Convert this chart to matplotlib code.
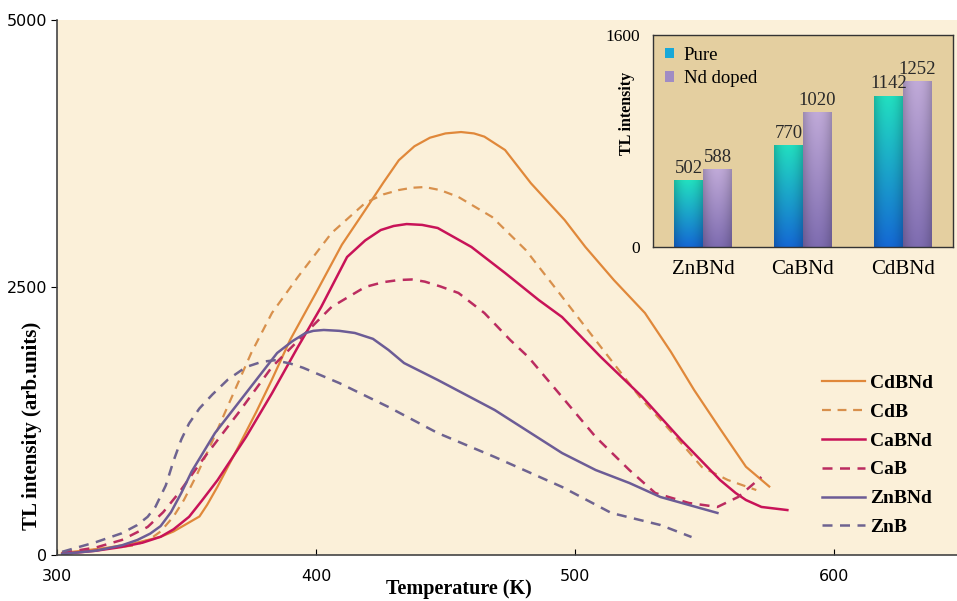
import numpy as np
import matplotlib.pyplot as plt
from matplotlib.colors import to_rgb

# main glow curves
t_cdbnd = [302, 310, 320, 330, 340, 345, 350, 355, 358, 362, 370, 377, 383, 390, 400, 410, 419, 426, 432, 438, 444, 450, 456, 461, 465, 473, 483, 496, 504, 515, 527, 537, 546, 556, 566, 575]
i_cdbnd = [20, 40, 70, 110, 170, 220, 290, 360, 470, 640, 1010, 1340, 1640, 2010, 2450, 2900, 3224, 3480, 3690, 3820, 3900, 3940, 3953, 3940, 3910, 3785, 3474, 3131, 2879, 2570, 2262, 1900, 1542, 1180, 825, 640]

t_cdb = [302, 315, 330, 336, 340, 345, 349, 354, 359, 367, 375, 383, 393, 406, 419, 426, 432, 437, 442, 448, 455, 468, 481, 493, 510, 525, 539, 549, 559, 570]
i_cdb = [20, 50, 90, 150, 220, 360, 514, 750, 1010, 1449, 1888, 2262, 2598, 3009, 3290, 3370, 3411, 3432, 3439, 3410, 3346, 3159, 2850, 2477, 1944, 1477, 1103, 822, 701, 607]

t_cabnd = [302, 315, 325, 333, 340, 345, 351, 356, 362, 373, 383, 393, 402, 412, 419, 425, 430, 435, 441, 447, 460, 473, 486, 495, 510, 526, 541, 556, 562, 566, 572, 582]
i_cabnd = [10, 40, 75, 115, 170, 240, 357, 510, 700, 1103, 1511, 1944, 2318, 2785, 2940, 3037, 3075, 3093, 3085, 3056, 2879, 2636, 2383, 2224, 1850, 1477, 1075, 701, 580, 514, 449, 420]

t_cab = [302, 315, 325, 335, 341, 347, 357, 370, 383, 396, 406, 419, 426, 432, 437, 442, 448, 455, 465, 475, 482, 495, 508, 521, 531, 544, 555, 563, 572]
i_cab = [20, 70, 140, 262, 400, 579, 916, 1327, 1757, 2075, 2318, 2505, 2550, 2570, 2575, 2555, 2510, 2449, 2262, 2009, 1850, 1477, 1103, 794, 579, 486, 449, 542, 729]

t_znbnd = [302, 315, 325, 331, 336, 340, 344, 348, 352, 361, 373, 385, 391, 396, 399, 403, 409, 415, 422, 428, 434, 447, 469, 495, 508, 521, 533, 555]
i_znbnd = [10, 40, 90, 140, 200, 270, 400, 580, 780, 1140, 1514, 1888, 2000, 2075, 2095, 2103, 2095, 2075, 2020, 1916, 1794, 1636, 1355, 953, 794, 673, 542, 393]

t_znb = [302, 315, 325, 331, 335, 338, 342, 345, 348, 351, 355, 360, 366, 373, 379, 384, 390, 395, 409, 428, 447, 469, 495, 514, 533, 545]
i_znb = [30, 120, 203, 280, 357, 450, 650, 880, 1080, 1230, 1370, 1500, 1640, 1757, 1805, 1820, 1790, 1750, 1607, 1383, 1140, 916, 636, 393, 280, 168]

# inset bar data
samples = ["ZnBNd", "CaBNd", "CdBNd"]
pure = [502, 770, 1142]
nd_doped = [588, 1020, 1252]

serif = ["Liberation Serif", "DejaVu Serif"]

fig = plt.figure(figsize=(9.57, 6.01), dpi=100)
fig.patch.set_facecolor("white")
ax = fig.add_axes([57 / 957, 1 - 555 / 601, 900 / 957, 535 / 601])
ax.set_facecolor("#fbf0d9")

dash = (0, (4, 3))
ax.plot(t_cdbnd, i_cdbnd, color="#e0883a", lw=1.6, label="CdBNd")
ax.plot(t_cdb, i_cdb, color="#d8904c", lw=1.6, ls=dash, label="CdB")
ax.plot(t_cabnd, i_cabnd, color="#c81358", lw=1.8, label="CaBNd")
ax.plot(t_cab, i_cab, color="#bb2c60", lw=1.8, ls=dash, label="CaB")
ax.plot(t_znbnd, i_znbnd, color="#6c5c96", lw=1.8, label="ZnBNd")
ax.plot(t_znb, i_znb, color="#6e6390", lw=1.8, ls=dash, label="ZnB")

ax.set_xlim(300, 647.5)
ax.set_ylim(0, 5000)
ax.set_xticks([300, 400, 500, 600])
ax.set_yticks([0, 2500, 5000])
ax.tick_params(axis="x", direction="in", length=4, labelsize=11.5, pad=10)
ax.tick_params(axis="y", direction="out", length=4, labelsize=11.5, pad=3)
for s in ["top", "right"]:
    ax.spines[s].set_visible(False)
for s in ["left", "bottom"]:
    ax.spines[s].set_color("#444444")
    ax.spines[s].set_linewidth(1.2)

fig.text(459 / 957, 1 - 589 / 601, "Temperature (K)", ha="center", va="center",
         fontsize=14.5, fontweight="bold", family=serif)
fig.text(32 / 957, 1 - 426 / 601, "TL intensity (arb.units)", ha="center", va="center",
         rotation=90, fontsize=15, fontweight="bold", family=serif)

ax.legend(loc="lower left", bbox_to_anchor=((822 - 57) / 900, 0.035), frameon=False,
          borderpad=0, borderaxespad=0, handlelength=2.2, handletextpad=0.25,
          labelspacing=0.58, prop={"family": serif, "weight": "bold", "size": 14})

# inset
ins = fig.add_axes([653 / 957, 1 - 247 / 601, 300 / 957, 212 / 601])
ins.set_facecolor("#e4cfa0")
x = np.arange(len(samples))
w = 0.29
b1 = ins.bar(x - w / 2, pure, w, color="#18a8d8", label="Pure")
b2 = ins.bar(x + w / 2, nd_doped, w, color="#a08cc4", label="Nd doped")


def shade(bars, top, bottom):
    top = np.array(to_rgb(top))
    bottom = np.array(to_rgb(bottom))
    v = np.linspace(0, 1, 100)[:, None, None]
    h = np.linspace(-1, 1, 40)[None, :, None]
    img = top * (1 - v) + bottom * v
    img = img * (1 - 0.18 * h ** 2)
    img = np.clip(img, 0, 1)
    for b in bars:
        x0, y0 = b.get_x(), b.get_y()
        im = ins.imshow(img, extent=[x0, x0 + b.get_width(), y0, y0 + b.get_height()],
                        aspect="auto", origin="upper", zorder=b.get_zorder() + 0.1)
        im.set_clip_path(b)


shade(b1, "#22e0c0", "#1468d4")
shade(b2, "#c0aad8", "#7e6cb0")

for bars, vals in ((b1, pure), (b2, nd_doped)):
    for b, v in zip(bars, vals):
        ins.text(b.get_x() + b.get_width() / 2, v + 25, str(v), ha="center", va="bottom",
                 fontsize=13.5, family=serif, color="#2a2a2a")

ins.set_xlim(-0.5, 2.5)
ins.set_ylim(0, 1600)
ins.set_yticks([0, 1600])
ins.set_xticks(x)
ins.set_xticklabels(samples, family=serif, fontsize=15)
for lab in ins.get_yticklabels():
    lab.set_family(serif)
    lab.set_fontsize(12.5)
ins.tick_params(axis="x", length=0, pad=9)
ins.tick_params(axis="y", length=0, pad=9)
ins.set_ylabel("TL intensity", family=serif, fontsize=11.5, fontweight="bold")
ins.yaxis.set_label_coords(-0.06, 0.63)
for s in ins.spines.values():
    s.set_color("#333333")
    s.set_linewidth(1.0)
ins.legend(loc="upper left", bbox_to_anchor=(0.04, 0.945), frameon=False,
           borderpad=0, borderaxespad=0, handlelength=0.5, handleheight=0.5,
           handletextpad=0.5, labelspacing=0.36, prop={"family": serif, "size": 13.5})

fig.savefig("out.png", dpi=100)
